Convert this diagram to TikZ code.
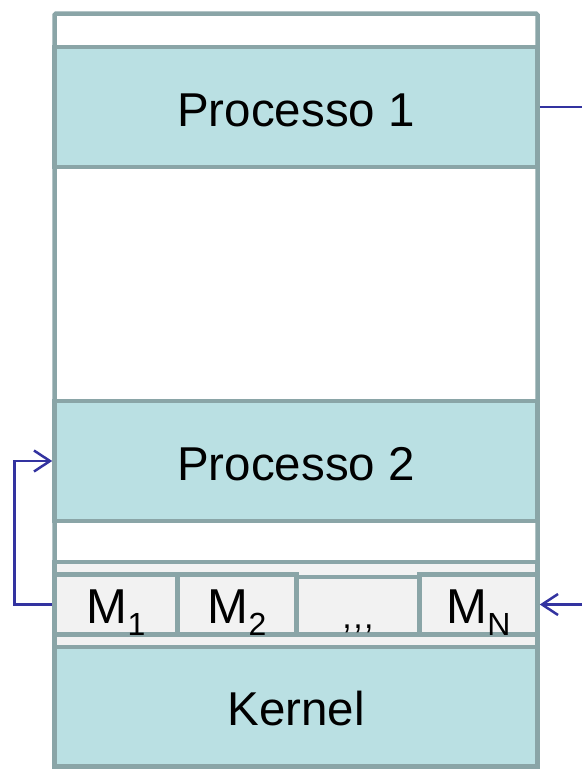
\documentclass[tikz,border=0pt]{standalone}
\usepackage{fontspec}
\setmainfont{Liberation Sans}
\usetikzlibrary{arrows.meta, positioning}
\definecolor{MemGray}{HTML}{8AA5A7}
\definecolor{ProcTeal}{HTML}{BAE0E3}
\definecolor{BoxLight}{HTML}{F2F2F2}
\definecolor{LinkBlue}{HTML}{3333A0}
\tikzset{
    colbox/.style={rectangle, draw=MemGray, fill=white, line width=4.5pt, inner sep=0pt,
        rounded corners=1.5pt},
    layerbox/.style={rectangle, draw=MemGray, fill=ProcTeal, line width=4.5pt, inner sep=0pt,
        minimum width=483pt, minimum height=120pt, text height=38pt, text depth=0pt,
        font=\fontsize{47.5}{50}\selectfont},
    mailband/.style={rectangle, draw=MemGray, fill=BoxLight, line width=4.5pt, inner sep=0pt,
        minimum width=483pt, minimum height=85pt},
    mailcell/.style={rectangle, draw=MemGray, fill=BoxLight, line width=4.5pt, inner sep=0pt,
        minimum height=60pt, text height=37pt, text depth=0pt,
        font=\fontsize{49}{52}\selectfont},
    linkline/.style={line width=2.5pt, LinkBlue},
    linkarrow/.style={-{Straight Barb[length=16pt, width=21pt]}, line width=2.5pt, LinkBlue},
}
\newcommand{\subidx}[1]{\raisebox{-12pt}{\fontsize{32}{34}\selectfont #1}}

\begin{document}
\begin{tikzpicture}[x=1pt, y=-1pt]
    \useasboundingbox (0,0) rectangle (582,769);
    % memory column
    \node[colbox, minimum width=483pt, minimum height=753pt] (memory) at (296,390) {};
    \node[layerbox] (proc1) at (296,107) {Processo 1};
    \node[layerbox] (proc2) at (296,461) {Processo 2};
    % mailboxes
    \node[mailband] (mailbox) at (296,604.5) {};
    \node[mailcell, minimum width=123pt] (mail1) at (116,604.5) {M\subidx{1}};
    \node[mailcell, minimum width=119pt] (mail2) at (237,604.5) {M\subidx{2}};
    \node[mailcell, minimum width=118pt] (mailN) at (478.5,604.5) {M\subidx{N}};
    \node[mailcell, minimum width=123pt, minimum height=57.5pt, text height=46pt,
        font=\fontsize{34}{36}\selectfont] (maildots) at (358,605.75) {,\kern1.5pt,\kern1.5pt,};
    \node[layerbox, minimum height=119.5pt] (kernel) at (296,706.75) {Kernel};
    % links
    \coordinate (p1out) at (582,107);
    \coordinate (mailin) at (582,604.5);
    \draw[linkline] (proc1.east) -- (p1out);
    \draw[linkarrow] (mailin) -- (mailN.east);
    \draw[linkarrow] (mail1.west) -- ++(-38,0) |- (proc2.west);
\end{tikzpicture}
\end{document}
